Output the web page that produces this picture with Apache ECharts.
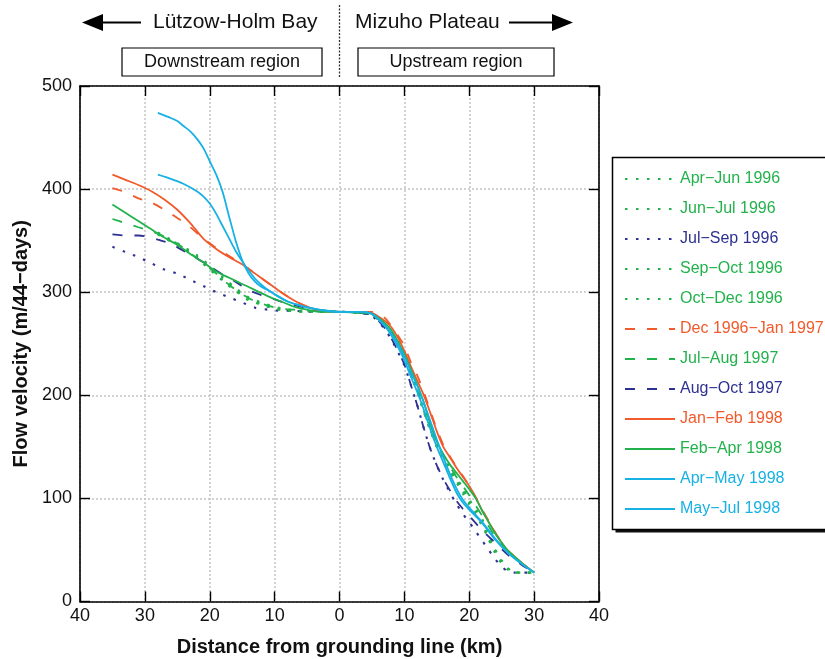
<!DOCTYPE html>
<html><head><meta charset="utf-8">
<script src="https://cdn.jsdelivr.net/npm/echarts@6/dist/echarts.min.js"></script>
<style>html,body{margin:0;padding:0;background:#fff}#c{width:825px;height:659px}</style>
</head><body><div id="c"></div>
<script>
// x: distance from grounding line (km, negative = downstream), y: flow velocity (m/44-days)
const aprJun1996 = [[-28,357],[-26,350],[-24,343],[-22,335],[-20,325],[-18,314],[-16,303],[-14,294],[-12,289],[-10,285],[-8,283],[-5,281],[0,281],[3,280],[5,278],[7,268],[9,251],[10,239],[11,223],[12,205],[13,185],[14,167],[15,151],[16,139],[17,129],[18,119],[19,108],[20,97],[21,88],[22,77],[23,60],[24,47],[25,37],[26,31],[27,28],[30,28]];
const junJul1996 = [[-28,356],[-26,349],[-24,342],[-22,334],[-20,323],[-18,312],[-16,302],[-14,293],[-12,288],[-10,284],[-8,282],[-5,281],[0,281],[3,280],[5,278],[7,267],[9,250],[10,237],[11,221],[12,203],[13,184],[14,166],[15,150],[16,137],[17,126],[18,116],[19,105],[20,94],[21,84],[22,73],[23,61],[24,50],[25,40],[26,32],[27,28],[30,28]];
const julSep1996 = [[-35,344],[-33,339],[-31,334],[-29,328],[-27,322],[-25,318],[-23,312],[-21,306],[-19,300],[-17,295],[-15,290],[-13,285],[-11,283],[-9,282],[-7,282],[-5,281],[0,281],[3,280],[5,277],[7,264],[8,254],[9,242],[10,229],[11,210],[12,190],[13,168],[14,148],[15,132],[16,118],[17,106],[18,95],[19,85],[20,77],[21,68],[22,59],[23,50],[24,41],[25,34],[26,29],[27,28],[30,28]];
const sepOct1996 = [[-28,358],[-26,351],[-24,344],[-22,336],[-20,326],[-18,315],[-16,304],[-14,295],[-12,290],[-10,286],[-8,283],[-5,282],[0,281],[3,280],[5,278],[7,268],[9,252],[10,240],[11,224],[12,207],[13,187],[14,169],[15,153],[16,141],[17,131],[18,121],[19,110],[20,99],[21,90],[22,80],[23,64],[24,50],[25,39],[26,32],[27,28],[30,28]];
const octDec1996 = [[-28,357],[-26,350],[-24,342],[-22,333],[-20,322],[-18,311],[-16,301],[-14,292],[-12,288],[-10,284],[-8,282],[-5,281],[0,281],[3,280],[5,278],[7,267],[9,250],[10,238],[11,222],[12,204],[13,184],[14,166],[15,150],[16,138],[17,128],[18,118],[19,107],[20,96],[21,86],[22,75],[23,62],[24,49],[25,38],[26,31],[27,28],[30,28]];
const dec1996Jan1997 = [[-35,401],[-33,397],[-31,391],[-29,387],[-27,380],[-25,372],[-23,363],[-21,352],[-19,343],[-17,335],[-15,327],[-13,318],[-11,309],[-9,300],[-7,292],[-5,286],[-3,282],[0,281],[3,281],[5,281],[7,275],[8,267],[9,258],[10,248],[11,232],[12,219],[13,203],[14,185],[15,167],[16,152],[17,141],[18,131],[19,122],[20,112],[21,101],[22,89],[23,78],[24,67],[25,57],[26,49],[28,38],[30,28]];
const julAug1997 = [[-35,371],[-33,367],[-31,363],[-29,359],[-27,354],[-25,347],[-23,338],[-21,328],[-19,318],[-17,307],[-15,298],[-13,291],[-11,287],[-9,284],[-7,283],[-5,282],[0,281],[3,280],[5,278],[7,268],[9,251],[10,236],[11,221],[12,205],[13,185],[14,166],[15,152],[16,141],[17,131],[18,121],[19,112],[20,103],[21,93],[22,83],[23,73],[24,63],[25,55],[26,47],[28,37],[30,28]];
const augOct1997 = [[-35,356],[-33,355],[-31,355],[-29.6,354],[-28,351],[-26,347],[-24,340],[-22,333],[-20,325],[-18,317],[-16,310],[-14,302],[-12,297],[-10,293],[-8,289],[-6,286],[-4,283],[-2,282],[0,281],[3,280],[5,278],[7,265],[8,255],[9,243],[10,230],[11,210],[12,190],[13,168],[14,148],[15,132],[16,119],[17,108],[18,98],[19,90],[20,83],[22,69],[24,57],[26,45],[28,36],[30,28]];
const janFeb1998 = [[-35,414],[-33,409],[-31,404],[-29,398],[-27,390],[-25,380],[-23,367],[-21,352],[-19,342],[-17,334],[-15,327],[-13,318],[-11,309],[-9,300],[-7,292],[-5,286],[-3,282],[0,281],[3,281],[5,280],[7,272],[8,266],[9,256],[10,243],[11,228],[12,214],[13,200],[14,183],[15,165],[16,150],[17,140],[18,130],[19,121],[20,112],[21,101],[22,88],[23,77],[24,67],[25,57],[26,49],[28,38],[30,28]];
const febApr1998 = [[-35,385],[-33,377],[-31,369],[-29,361],[-27,353],[-25,346],[-23,337],[-21,329],[-19,320],[-17,314],[-15,308],[-13,302],[-11,296],[-9,291],[-7,286],[-5,283],[-3,281],[0,281],[3,280],[5,279],[7,270],[8,263],[9,252],[10,240],[11,225],[12,210],[13,193],[14,172],[15,155],[16,143],[17,133],[18,125],[19,117],[20,109],[21,100],[22,88],[23,77],[24,66],[25,57],[26,49],[28,38],[30,28]];
const aprMay1998 = [[-28,474],[-26,469],[-25,466],[-24,461],[-23,456],[-22,449],[-21,440],[-20,427],[-19,414],[-18,397],[-17,373],[-16,350],[-15,331],[-14,318],[-13,310],[-12,305],[-11,302],[-10,298],[-8,291],[-6,287],[-4,284],[-2,282],[0,281],[3,281],[5,279],[7,267],[8,258],[9,247],[10,234],[11,218],[12,203],[13,186],[14,167],[15,150],[16,135],[17,120],[18,106],[19,96],[20,89],[22,76],[24,60],[26,47],[28,37],[30,28]];
const mayJul1998 = [[-28,414],[-26,410],[-24,405],[-22,398],[-21,393],[-20,386],[-19,376],[-18,364],[-17,352],[-16,340],[-15,330],[-14,321],[-13,313],[-12,307],[-11,302],[-10,298],[-8,291],[-6,287],[-4,284],[-2,282],[0,281],[3,281],[5,279],[7,268],[8,260],[9,250],[10,238],[11,223],[12,209],[13,193],[14,175],[15,157],[16,140],[17,124],[18,110],[19,99],[20,91],[22,77],[24,61],[26,47],[28,37],[30,28]];

const seriesNames = ['Apr\u2212Jun 1996','Jun\u2212Jul 1996','Jul\u2212Sep 1996','Sep\u2212Oct 1996','Oct\u2212Dec 1996','Dec 1996\u2212Jan 1997','Jul\u2212Aug 1997','Aug\u2212Oct 1997','Jan\u2212Feb 1998','Feb\u2212Apr 1998','Apr\u2212May 1998','May\u2212Jul 1998'];
const seriesData = [aprJun1996, junJul1996, julSep1996, sepOct1996, octDec1996, dec1996Jan1997, julAug1997, augOct1997, janFeb1998, febApr1998, aprMay1998, mayJul1998];
const xTicks = [-40,-30,-20,-10,0,10,20,30,40];
const yTicks = [0,100,200,300,400,500];

const GREEN = '#22b24c', NAVY = '#2e3192', RED = '#f15a2b', CYAN = '#17b1e3';
const colors = [GREEN, GREEN, NAVY, GREEN, GREEN, RED, GREEN, NAVY, RED, GREEN, CYAN, CYAN];
const DOT = [2.5, 8.5], DASH = [10, 12];
const types = [DOT, DOT, DOT, DOT, DOT, DASH, DASH, DASH, 'solid', 'solid', 'solid', 'solid'];
const widths = [2.1, 2.1, 2.1, 2.1, 2.1, 1.8, 1.8, 1.8, 1.8, 1.8, 1.8, 1.8];
const FONT = 'Liberation Sans, Arial, Helvetica, sans-serif';

const chart = echarts.init(document.getElementById('c'), null, {renderer: 'canvas'});
const axisCommon = {
  type: 'value', min: xTicks[0], max: xTicks[xTicks.length - 1], interval: 10,
  axisLine: {show: true, onZero: false, lineStyle: {color: '#000', width: 1.6}},
  axisTick: {show: true, inside: true, length: 10, lineStyle: {color: '#000', width: 1.4}},
};
chart.setOption({
  animation: false,
  backgroundColor: '#fff',
  textStyle: {fontFamily: FONT},
  grid: {left: 80, right: 226, top: 86, bottom: 57.5, containLabel: false, outerBoundsMode: 'none'},
  xAxis: [
    Object.assign({}, axisCommon, {
      position: 'bottom',
      axisLabel: {fontSize: 18, color: '#111', margin: 6, fontFamily: FONT, formatter: v => String(Math.abs(v))},
      splitLine: {show: true, lineStyle: {color: '#c4c4c4', width: 1.5, type: [2, 2]}},
      name: 'Distance from grounding line (km)', nameLocation: 'middle', nameGap: 36,
      nameTextStyle: {fontSize: 20, fontWeight: 'bold', color: '#111', fontFamily: FONT}
    }),
    Object.assign({}, axisCommon, {position: 'top', axisLabel: {show: false}, splitLine: {show: false}})
  ],
  yAxis: [
    {type: 'value', min: yTicks[0], max: yTicks[yTicks.length - 1], interval: 100, position: 'left',
     axisLine: {show: true, onZero: false, lineStyle: {color: '#000', width: 1.6}},
     axisTick: {show: true, inside: true, length: 10, lineStyle: {color: '#000', width: 1.4}},
     axisLabel: {fontSize: 18, color: '#111', margin: 8, fontFamily: FONT},
     splitLine: {show: true, lineStyle: {color: '#c4c4c4', width: 1.5, type: [2, 2]}},
     name: 'Flow velocity (m/44\u2212days)', nameLocation: 'middle', nameGap: 49,
     nameTextStyle: {fontSize: 20, fontWeight: 'bold', color: '#111', fontFamily: FONT}},
    {type: 'value', min: yTicks[0], max: yTicks[yTicks.length - 1], interval: 100, position: 'right',
     axisLine: {show: true, onZero: false, lineStyle: {color: '#000', width: 1.6}},
     axisTick: {show: true, inside: true, length: 10, lineStyle: {color: '#000', width: 1.4}},
     axisLabel: {show: false}, splitLine: {show: false}}
  ],
  legend: {
    orient: 'vertical', left: 613, top: 158, z: 10,
    padding: [13, 60, 13, 11],
    icon: 'inherit',
    itemWidth: 50, itemHeight: 16, itemGap: 14,
    itemStyle: {opacity: 0},
    textStyle: {fontSize: 16, fontFamily: FONT},
    data: seriesNames.map((n, i) => ({name: n, textStyle: {color: colors[i]}}))
  },
  series: seriesData.map((d, i) => ({
    name: seriesNames[i], type: 'line', data: d, showSymbol: false, symbol: 'none',
    smooth: 0.25, xAxisIndex: 0, yAxisIndex: 0, z: 10 + i,
    lineStyle: {color: colors[i], width: widths[i], type: types[i]},
    itemStyle: {color: colors[i]}
  })),
  graphic: [
    {type: 'rect', z: 1, shape: {x: 615.5, y: 160.5, width: 240, height: 372}, style: {fill: '#111'}},
    {type: 'rect', z: 2, shape: {x: 612.5, y: 157.5, width: 240, height: 372}, style: {fill: '#fff', stroke: '#000', lineWidth: 1.5}},
    {type: 'polygon', shape: {points: [[82,22.5],[103,14],[103,31]]}, style: {fill: '#000'}},
    {type: 'line', shape: {x1: 102, y1: 22.5, x2: 141, y2: 22.5}, style: {stroke: '#000', lineWidth: 2}},
    {type: 'text', x: 153, y: 22.5, style: {text: 'L\u00fctzow-Holm Bay', font: '21px ' + FONT, fill: '#111', verticalAlign: 'middle'}},
    {type: 'line', shape: {x1: 339.5, y1: 5, x2: 339.5, y2: 78}, style: {stroke: '#333', lineWidth: 1.3, lineDash: [2, 1.5]}},
    {type: 'text', x: 355, y: 22.5, style: {text: 'Mizuho Plateau', font: '21px ' + FONT, fill: '#111', verticalAlign: 'middle'}},
    {type: 'line', shape: {x1: 509, y1: 22.5, x2: 554, y2: 22.5}, style: {stroke: '#000', lineWidth: 2}},
    {type: 'polygon', shape: {points: [[573,22.5],[552,14],[552,31]]}, style: {fill: '#000'}},
    {type: 'rect', shape: {x: 122, y: 48, width: 200, height: 28}, style: {fill: '#fff', stroke: '#000', lineWidth: 1.2}},
    {type: 'text', x: 222, y: 62, style: {text: 'Downstream region', font: '18px ' + FONT, fill: '#111', align: 'center', verticalAlign: 'middle'}},
    {type: 'rect', shape: {x: 358, y: 48, width: 196, height: 28}, style: {fill: '#fff', stroke: '#000', lineWidth: 1.2}},
    {type: 'text', x: 456, y: 62, style: {text: 'Upstream region', font: '18px ' + FONT, fill: '#111', align: 'center', verticalAlign: 'middle'}}
  ]
});
</script>
</body></html>
